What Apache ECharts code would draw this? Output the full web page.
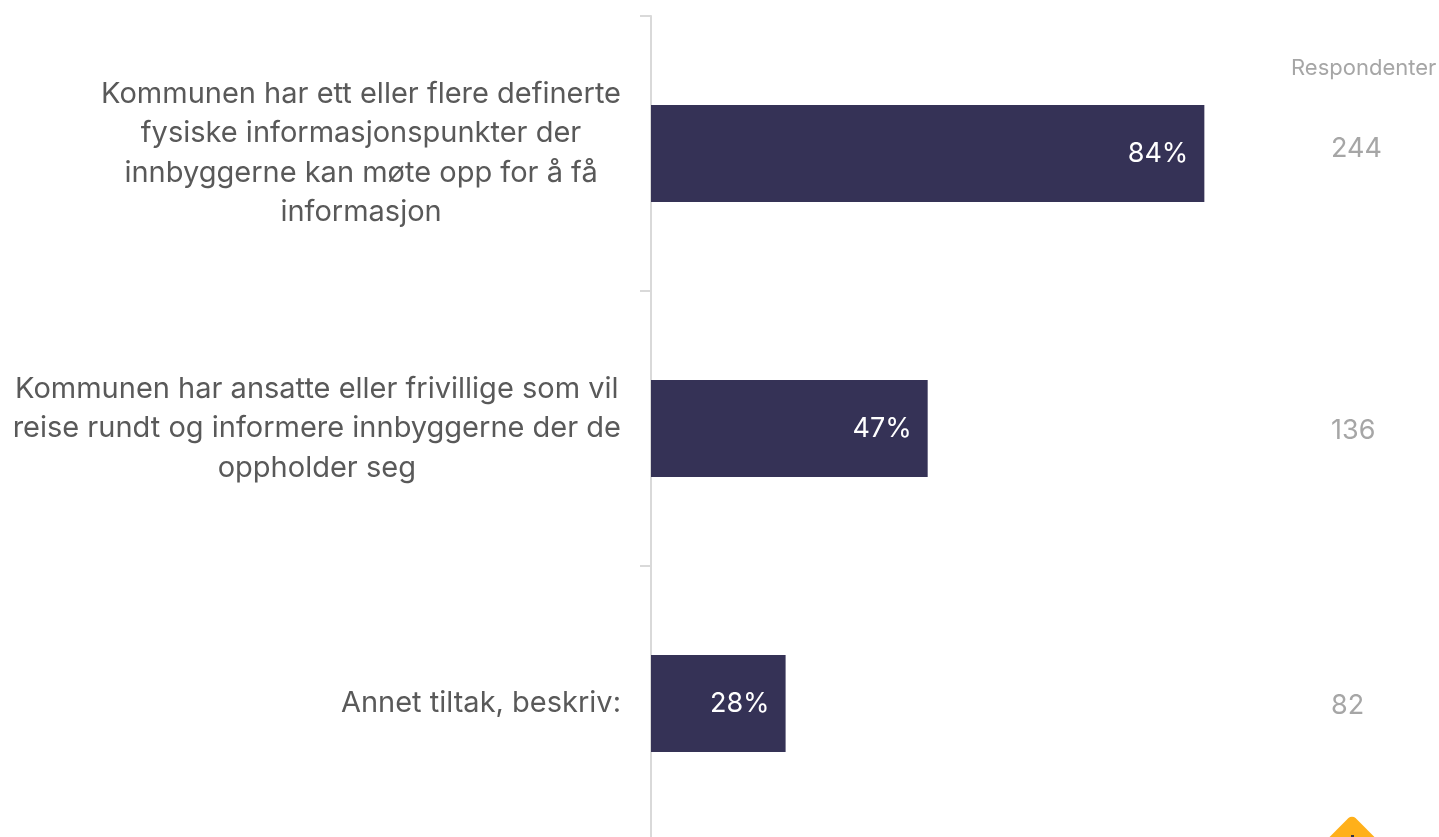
<!DOCTYPE html>
<html>
<head>
<meta charset="utf-8">
<style>
  html, body {margin: 0; padding: 0; background: #fff; overflow: hidden;}
  #main {width: 1439px; height: 837px;}
</style>
<script src="https://cdn.jsdelivr.net/npm/echarts@6/dist/echarts.min.js"></script>
</head>
<body>
<div id="main"></div>
<script>
const categories = [
    "Kommunen har ett eller flere definerte\nfysiske informasjonspunkter der\ninnbyggerne kan møte opp for å få\ninformasjon",
    "Kommunen har ansatte eller frivillige som vil\nreise rundt og informere innbyggerne der de\noppholder seg",
    "Annet tiltak, beskriv:"
];
const shares = [84, 47, 28];
const respondents = [244, 136, 82];
const respondentsTitle = "Respondenter";

const FONT = 'Inter, sans-serif';
const GREY = '#a6a6a6';

const chartDom = document.getElementById('main');
const myChart = echarts.init(chartDom);

const respondentStyle = {color: GREY, fontFamily: FONT, fontSize: 27};

const option = {
    animation: false,
    backgroundColor: '#fff',
    title: {
        text: respondentsTitle,
        left: 1286,
        top: 52,
        textStyle: {
            color: GREY,
            fontFamily: FONT,
            fontWeight: 400,
            fontSize: 22
        }
    },
    grid: {
        left: 651,
        width: 673,
        top: 16,
        height: 825,
        outerBoundsMode: 'none'
    },
    xAxis: {
        type: 'value',
        min: 10,
        max: 100,
        show: false
    },
    yAxis: [
        {
            type: 'category',
            inverse: true,
            data: categories,
            axisLine: {show: true, lineStyle: {color: '#d9d9d9', width: 2}},
            axisTick: {show: true, length: 11, lineStyle: {color: '#d9d9d9', width: 2}},
            axisLabel: {
                margin: 30,
                align: 'right',
                formatter: (value) => value.split('\n').map(line => `{c|${line}}`).join('\n'),
                rich: {
                    c: {
                        align: 'center',
                        color: '#595959',
                        fontFamily: FONT,
                        fontSize: 29,
                        lineHeight: 39.5
                    }
                }
            }
        },
        {
            type: 'category',
            inverse: true,
            position: 'right',
            data: respondents,
            axisLine: {show: false},
            axisTick: {show: false},
            axisLabel: {
                margin: 7,
                align: 'left',
                // the first count sits a little higher than its bar in the original
                formatter: (value, index) => index === 0 ? `{up|${value}}` : `{down|${value}}`,
                rich: {
                    up: {...respondentStyle, padding: [0, 0, 10, 0]},
                    down: {...respondentStyle, padding: [4, 0, 0, 0]}
                }
            }
        }
    ],
    graphic: [
        {
            type: 'rect',
            x: 1352,
            y: 857,
            rotation: Math.PI / 4,
            shape: {x: -30, y: -30, width: 60, height: 60, r: 5},
            style: {fill: '#ffb01a'}
        },
        {
            type: 'rect',
            shape: {x: 1351, y: 835, width: 3, height: 3},
            style: {fill: '#3a3340'}
        }
    ],
    series: [
        {
            type: 'bar',
            data: shares,
            barWidth: 97,
            itemStyle: {color: '#353256'},
            label: {
                show: true,
                position: 'insideRight',
                distance: 16,
                color: '#fff',
                fontFamily: FONT,
                fontSize: 27,
                formatter: (p) => p.value + '%'
            }
        }
    ]
};

option && myChart.setOption(option);
</script>
</body>
</html>
